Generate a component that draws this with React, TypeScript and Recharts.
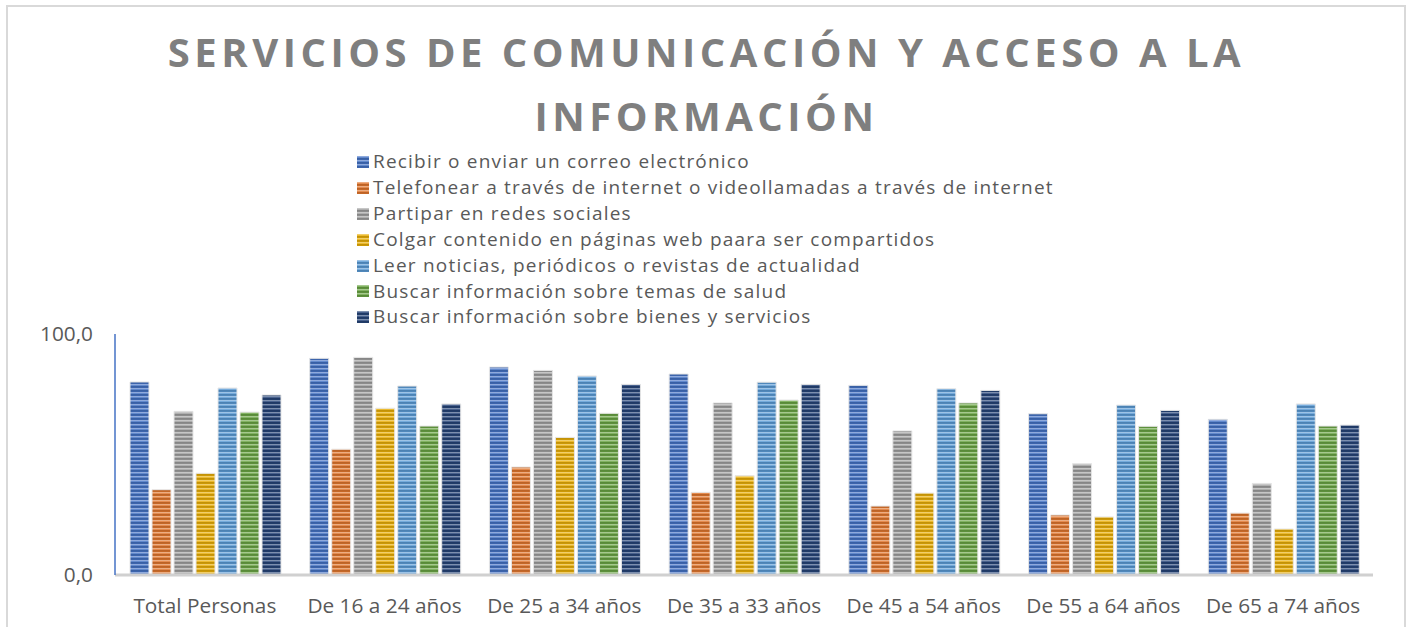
import React from 'react'
import { BarChart, Bar, XAxis, YAxis } from 'recharts'

const categories = [
  'Total Personas',
  'De 16 a 24 años',
  'De 25 a 34 años',
  'De 35 a 33 años',
  'De 45 a 54 años',
  'De 55 a 64 años',
  'De 65 a 74 años',
]

const seriesNames = [
  'Recibir o enviar un correo electrónico',
  'Telefonear a través de internet o videollamadas a través de internet',
  'Partipar en redes sociales',
  'Colgar contenido en páginas web paara ser compartidos',
  'Leer noticias, periódicos o revistas de actualidad',
  'Buscar información sobre temas de salud',
  'Buscar información sobre bienes y servicios',
]

const correo = [80.1, 89.9, 86.3, 83.4, 78.7, 66.9, 64.6]
const telefonear = [35.4, 52.2, 44.8, 34.3, 28.6, 24.9, 25.7]
const redes = [67.9, 90.3, 84.9, 71.4, 59.8, 46.2, 38.0]
const colgar = [42.2, 69.2, 57.1, 41.2, 34.0, 24.1, 19.1]
const noticias = [77.6, 78.4, 82.6, 80.0, 77.3, 70.5, 71.0]
const salud = [67.6, 61.8, 67.1, 72.6, 71.4, 61.7, 61.8]
const bienes = [74.7, 71.0, 79.1, 79.1, 76.6, 68.3, 62.2]

const yTicks = [0, 100]

const seriesValues = [correo, telefonear, redes, colgar, noticias, salud, bienes]
const colors = ['#4472C4', '#E0762E', '#A0A0A0', '#E8AE08', '#5B9BD5', '#6AA444', '#264478']

const data = categories.map((name, i) => {
  const row: Record<string, string | number> = { name }
  seriesValues.forEach((vals, s) => { row['s' + s] = vals[i] })
  return row
})

const font = '"Open Sans", "Noto Sans", sans-serif'

function LegendBox() {
  return (
    <div style={{ position: 'absolute', left: 357, top: 149, fontFamily: font, fontSize: 19, letterSpacing: 1.2, color: '#595959', lineHeight: '25.9px' }}>
      {seriesNames.map((n, i) => (
        <div key={n} style={{ display: 'flex', alignItems: 'center', whiteSpace: 'nowrap' }}>
          <svg width={12} height={12} style={{ marginRight: 4 }}>
            <rect x={0} y={0} width={12} height={12} fill={`url(#stripe-${i})`} />
          </svg>
          {n}
        </div>
      ))}
    </div>
  )
}

export default function App() {
  return (
    <div style={{ position: 'absolute', left: 0, top: 0, width: 1413, height: 627, background: '#fff', overflow: 'hidden' }}>
      <div style={{ position: 'absolute', left: 6, top: 5, width: 1396, height: 700, border: '2px solid #D9D9D9' }} />
      <div style={{ position: 'absolute', left: 0, top: 20, width: 1413, textAlign: 'center', fontFamily: font, fontWeight: 700, fontSize: 40, letterSpacing: 4.5, color: '#7F7F7F', lineHeight: '64px' }}>
        <div>SERVICIOS DE COMUNICACIÓN Y ACCESO A LA</div>
        <div>INFORMACIÓN</div>
      </div>
      <div style={{ position: 'absolute', left: 0, top: 0 }}>
        <BarChart width={1413} height={627} data={data} margin={{ top: 334, right: 40, bottom: 0, left: 0 }} barCategoryGap={15} barGap={3}>
          <defs>
            {colors.map((c, i) => (
              <pattern key={c} id={`stripe-${i}`} patternUnits="userSpaceOnUse" width={4} height={4}>
                <rect x={0} y={0} width={4} height={4} fill={c} />
                <rect x={0} y={0} width={4} height={1.4} fill="#ffffff" fillOpacity={0.4} />
                <rect x={0} y={2.2} width={4} height={1.4} fill="#000000" fillOpacity={0.2} />
              </pattern>
            ))}
          </defs>
          <XAxis
            dataKey="name"
            height={52}
            axisLine={{ stroke: '#D0D0D0', strokeWidth: 3 }}
            tickLine={false}
            tickSize={0}
            tickMargin={23}
            interval={0}
            tick={{ fill: '#595959', fontSize: 20.8, fontFamily: font }}
          />
          <YAxis
            width={115}
            domain={[0, 100]}
            ticks={yTicks}
            axisLine={{ stroke: '#4472C4', strokeWidth: 1.5 }}
            tickLine={false}
            tickSize={0}
            tickMargin={22}
            tickFormatter={(v: number) => v.toFixed(1).replace('.', ',')}
            tick={{ fill: '#595959', fontSize: 20.8, fontFamily: font }}
          />
          {seriesNames.map((n, i) => (
            <Bar key={n} dataKey={'s' + i} name={n} fill={`url(#stripe-${i})`} stroke="#E6E6E6" strokeWidth={1} isAnimationActive={false} />
          ))}
        </BarChart>
      </div>
      <LegendBox />
    </div>
  )
}
